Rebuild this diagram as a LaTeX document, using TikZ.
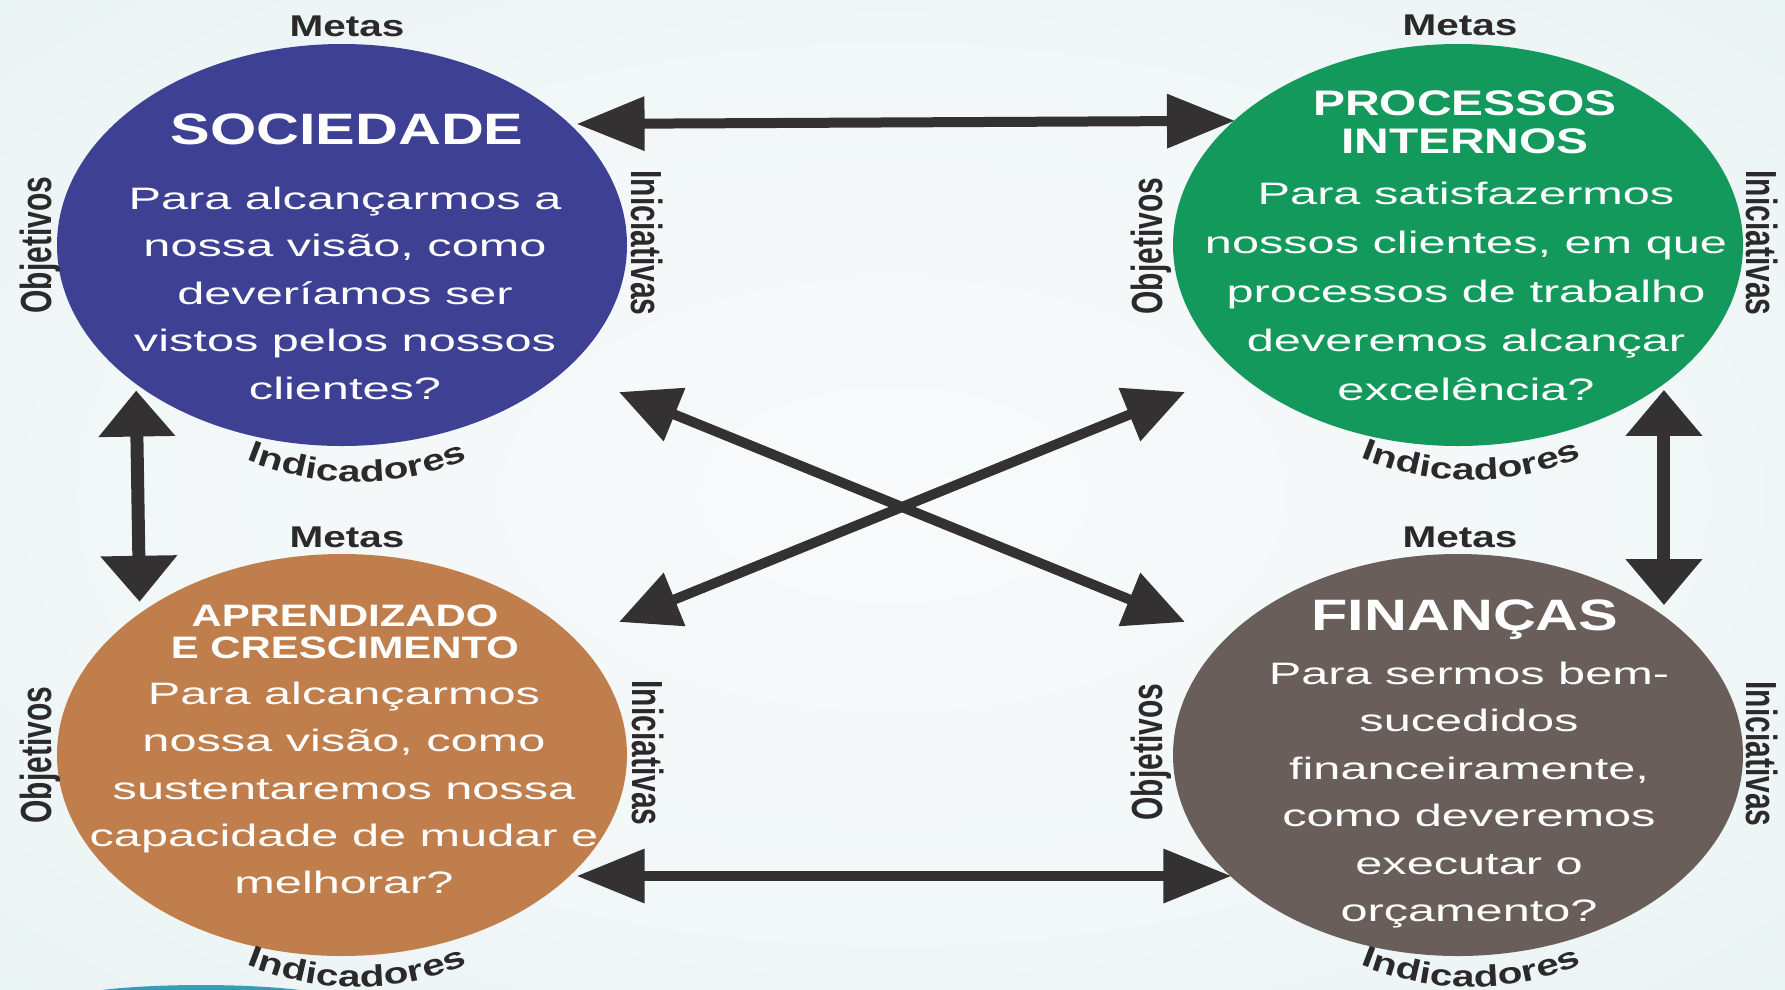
\documentclass[tikz,border=0pt]{standalone}
\usepackage{fontspec}
\usepackage{graphicx}
\usetikzlibrary{shapes.geometric, arrows.meta, decorations.text}
\setmainfont{Liberation Sans}
\newfontfamily\bodyf[FakeStretch=1.57]{Liberation Sans}
\newfontfamily\labf[FakeStretch=1.35]{Liberation Sans}
\newfontfamily\rotf{Liberation Sans}
\definecolor{socc}{RGB}{62,64,148}
\definecolor{procc}{RGB}{20,153,93}
\definecolor{aprc}{RGB}{192,126,76}
\definecolor{finc}{RGB}{106,94,91}
\definecolor{arrc}{RGB}{51,49,50}
\definecolor{labc}{RGB}{43,41,42}
\definecolor{bgA}{RGB}{248,250,251}
\definecolor{bgB}{RGB}{242,247,248}
\definecolor{bgC}{RGB}{228,240,239}
\definecolor{bgD}{RGB}{214,230,228}
\definecolor{swA}{RGB}{60,160,185}
\definecolor{swB}{RGB}{20,85,150}
\pgfdeclareradialshading{bgshade}{\pgfpoint{0bp}{0bp}}{color(0bp)=(bgA); color(22bp)=(bgB); color(45bp)=(bgC); color(70bp)=(bgD)}
\begin{document}
\begin{tikzpicture}[x=1pt,y=-1pt,
  ell/.style={ellipse, minimum width=570pt, minimum height=402pt, inner sep=0pt, outer sep=0pt},
  ttl/.style={text=white, align=center, inner sep=0pt},
  body/.style={text=white, align=center, inner sep=0pt, font=\bodyf\fontsize{31}{47.5}\selectfont},
  lab/.style={text=labc, inner sep=0pt, font=\labf\bfseries\fontsize{30}{30}\selectfont},
  vlab/.style={text=labc, inner sep=0pt},
  harrow/.style={draw=arrc, line width=10pt, arrows={Triangle[length=68pt,width=52pt]-Triangle[length=68pt,width=52pt]}},
  varrow/.style={draw=arrc, line width=13pt, arrows={Triangle[length=46pt,width=74pt]-Triangle[length=46pt,width=74pt]}},
  darrow/.style={draw=arrc, line width=10pt, arrows={Triangle[length=60pt,width=55pt]-Triangle[length=60pt,width=55pt]}},
  indic/.style={decorate, decoration={text along path, text align=center, text color=labc,
      text={|\labf\bfseries\fontsize{30}{30}\selectfont|Indicadores}}}
]
\shade[shading=bgshade] (0,0) rectangle (1785,989);
\useasboundingbox (0,0) rectangle (1785,989);
\begin{scope}
  \clip (0,0) rectangle (1785,989);
  \shade[top color=swA, bottom color=swB] (201,1005) ellipse [x radius=150pt, y radius=20pt];
\end{scope}

% ellipses
\node[ell, fill=socc]  (soc)  at (342,245) {};
\node[ell, fill=procc] (proc) at (1458,245) {};
\node[ell, fill=aprc]  (apr)  at (342,755) {};
\node[ell, fill=finc]  (fin)  at (1458,755) {};

% arrows
\draw[harrow, shorten <=7pt, shorten >=-1pt] (soc.28.3) -- (proc.151.7);
\draw[harrow, shorten <=7pt, shorten >=-1pt] (apr.-28.3) -- (fin.208.3);
\draw[varrow, shorten <=6.6pt, shorten >=11.6pt] (soc.214.54) -- (apr.145.46);
\draw[varrow, shorten <=6pt, shorten >=11pt] (proc.-34.8) -- (fin.34.8);
\coordinate (socD)  at ([shift={(277,147)}]soc.center);
\coordinate (finD)  at ([shift={(-273,-133)}]fin.center);
\coordinate (aprD)  at ([shift={(277,-133)}]apr.center);
\coordinate (procD) at ([shift={(-273,147)}]proc.center);
\draw[darrow] (socD) -- (finD);
\draw[darrow] (aprD) -- (procD);

% titles
\node[ttl, font=\labf\bfseries\fontsize{44}{44}\selectfont] (socT) at (347,129) {SOCIEDADE};
\node[ttl, font=\labf\bfseries\fontsize{35.5}{38}\selectfont] (procT) at (1465,122) {PROCESSOS\\INTERNOS};
\node[ttl, font=\labf\bfseries\fontsize{31}{32}\selectfont] (aprT) at (345,632) {APRENDIZADO\\E CRESCIMENTO};
\node[ttl, font=\labf\bfseries\fontsize{44}{44}\selectfont] (finT) at (1465,619.5) {FINANÇAS};

% body texts
\node[body] (socB) at (345,293) {Para alcançarmos a\\nossa visão, como\\deveríamos ser\\vistos pelos nossos\\clientes?};
\node[body, font=\bodyf\fontsize{31}{49}\selectfont] (procB) at (1466,291) {Para satisfazermos\\nossos clientes, em que\\processos de trabalho\\deveremos alcançar\\excelência?};
\node[body, font=\bodyf\fontsize{31}{47.3}\selectfont] (aprB) at (344,788) {Para alcançarmos\\nossa visão, como\\sustentaremos nossa\\capacidade de mudar e\\melhorar?};
\node[body, font=\bodyf\fontsize{31}{47.4}\selectfont] (finB) at (1469,795) {Para sermos bem-\\sucedidos\\financeiramente,\\como deveremos\\executar o\\orçamento?};

% Metas
\node[lab] (socM)  at (347,26) {Metas};
\node[lab] (procM) at (1460,25) {Metas};
\node[lab] (aprM)  at (347,537) {Metas};
\node[lab] (finM)  at (1460,537) {Metas};

% Objetivos
\node[vlab] (socO)  at (40,245)  {\scalebox{1.45}[1]{\rotatebox{90}{\rotf\bfseries\fontsize{30}{30}\selectfont Objetivos}}};
\node[vlab] (procO) at (1151,246) {\scalebox{1.45}[1]{\rotatebox{90}{\rotf\bfseries\fontsize{30}{30}\selectfont Objetivos}}};
\node[vlab] (aprO)  at (40,755)  {\scalebox{1.45}[1]{\rotatebox{90}{\rotf\bfseries\fontsize{30}{30}\selectfont Objetivos}}};
\node[vlab] (finO)  at (1151,752) {\scalebox{1.45}[1]{\rotatebox{90}{\rotf\bfseries\fontsize{30}{30}\selectfont Objetivos}}};

% Iniciativas
\node[vlab] (socI)  at (647,243)  {\scalebox{1.45}[1]{\rotatebox{-90}{\rotf\bfseries\fontsize{30}{30}\selectfont Iniciativas}}};
\node[vlab] (procI) at (1762,243) {\scalebox{1.45}[1]{\rotatebox{-90}{\rotf\bfseries\fontsize{30}{30}\selectfont Iniciativas}}};
\node[vlab] (aprI)  at (648,753)  {\scalebox{1.45}[1]{\rotatebox{-90}{\rotf\bfseries\fontsize{30}{30}\selectfont Iniciativas}}};
\node[vlab] (finI)  at (1762,754) {\scalebox{1.45}[1]{\rotatebox{-90}{\rotf\bfseries\fontsize{30}{30}\selectfont Iniciativas}}};

% Indicadores (curved)
\path[indic] (200,437.6) .. controls (304.7,496.8) and (409.3,496.8) .. (514,437.6);
\path[indic] (1314,435.6) .. controls (1418.7,494.8) and (1523.3,494.8) .. (1628,435.6);
\path[indic] (200,942.6) .. controls (304.7,1001.8) and (409.3,1001.8) .. (514,942.6);
\path[indic] (1314,942.6) .. controls (1418.7,1001.8) and (1523.3,1001.8) .. (1628,942.6);
\end{tikzpicture}
\end{document}
